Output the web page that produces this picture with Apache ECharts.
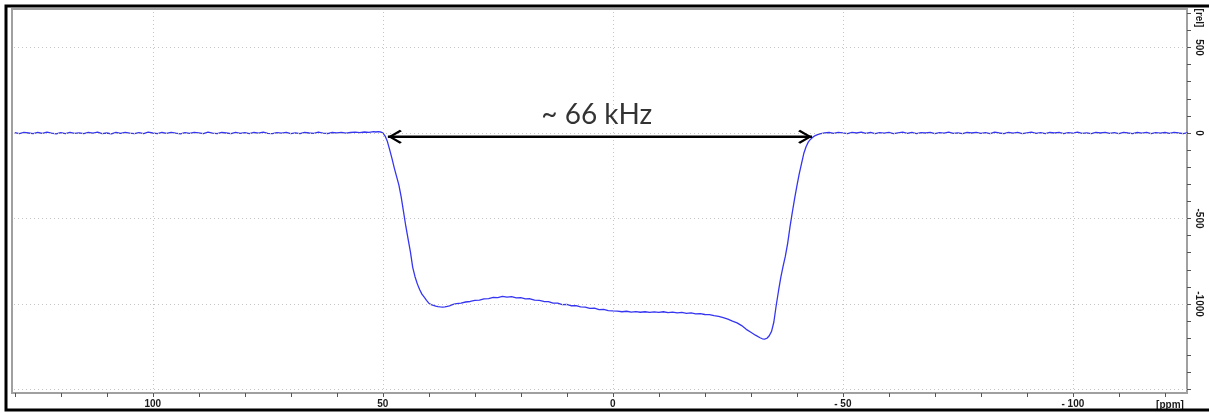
<!DOCTYPE html>
<html>
<head>
<meta charset="utf-8">
<script src="https://cdn.jsdelivr.net/npm/echarts@6/dist/echarts.min.js"></script>
<style>
  html, body { margin: 0; padding: 0; background: #fff; }
  #chart { width: 1209px; height: 413px; }
</style>
</head>
<body>
<div id="chart"></div>
<script>
// Static-powder spectrum: chemical shift [ppm] vs intensity [rel]
const baselineHigh = [
  [130,2],[129,-3],[128,4],[127,0],[126,-4],[125,3],[124,-2],[123,5],[122,-1],[121,-5],
  [120,2],[119,-3],[118,4],[117,-2],[116,1],[115,-4],[114,3],[113,-1],[112,5],[111,-3],
  [110,0],[109,-5],[108,3],[107,-2],[106,4],[105,-1],[104,-4],[103,2],[102,-3],[101,5],
  [100,0],[99,-4],[98,3],[97,-2],[96,4],[95,-1],[94,-5],[93,2],[92,-2],[91,4],
  [90,1],[89,-3],[88,5],[87,-1],[86,-4],[85,3],[84,0],[83,-3],[82,4],[81,-2],
  [80,2],[79,-4],[78,3],[77,-1],[76,5],[75,-2],[74,-4],[73,2],[72,-1],[71,4],
  [70,-3],[69,1],[68,-4],[67,3],[66,0],[65,-2],[64,5],[63,-1],[62,-3],[61,3],
  [60,1],[59,4],[58,-1],[57,3],[56,5],[55,2],[54,6],[53,4],[52,8],[51.5,6],[51,8],[50.5,6]
];
const leftEdge = [
  [50,1],[49.5,-18],[49,-50],[48.5,-99],[48,-150],[47.5,-205],[47,-255],[46.5,-305],
  [46,-375],[45.5,-460],[45,-545],[44.5,-620],[44,-695],[43.5,-785],[43,-840],[42.5,-882],
  [42,-915],[41.5,-942],[41,-960],[40.5,-978],[40,-995],[39.5,-1003],[39,-1008],[38.5,-1012],
  [38,-1015],[37.5,-1017],[37,-1018],[36.5,-1017],[36,-1014],[35.5,-1010],[35,-1005],
  [34.5,-1001],[34,-997]
];
const plateau = [
  [33,-994],[32,-988],[31,-985],[30,-979],[29,-977],[28,-970],[27,-968],[26,-961],[25,-962],
  [24,-955],[23,-960],[22,-957],[21,-964],[20,-963],[19,-970],[18,-969],[17,-977],[16,-978],
  [15,-985],[14,-986],[13,-995],[12,-994],[11,-1003],[10,-1002],[9,-1010],[8,-1009],
  [7,-1017],[6,-1018],[5,-1025],[4,-1024],[3,-1032],[2,-1031],[1,-1038],[0,-1040],
  [-1,-1041],[-2,-1045],[-3,-1042],[-4,-1047],[-5,-1044],[-6,-1048],[-7,-1045],[-8,-1049],
  [-9,-1046],[-10,-1049],[-11,-1045],[-12,-1050],[-13,-1047],[-14,-1052],[-15,-1049],
  [-16,-1054],[-17,-1052],[-18,-1057],[-19,-1056],[-20,-1061],[-21,-1062],[-22,-1068],
  [-23,-1072],[-24,-1080],[-25,-1088],[-26,-1100],[-27,-1110],[-28,-1126],[-29,-1148],
  [-30,-1165],[-31,-1182],[-32,-1197],[-32.5,-1203],[-33,-1205],[-33.5,-1200]
];
const rightEdge = [
  [-34,-1185],[-34.5,-1160],[-35,-1105],[-35.5,-1010],[-36,-925],[-36.5,-845],[-37,-780],
  [-37.5,-720],[-38,-645],[-38.5,-550],[-39,-465],[-39.5,-385],[-40,-310],[-40.5,-240],
  [-41,-180],[-41.5,-120],[-42,-80],[-42.5,-52],[-43,-36],[-43.5,-24],[-44,-15],
  [-44.5,-9],[-45,-5],[-45.5,-2],[-46,1]
];
const baselineLow = [
  [-47,3],[-48,-2],[-49,4],[-50,1],[-51,-3],[-52,4],[-53,0],[-54,5],[-55,-2],[-56,3],
  [-57,-4],[-58,2],[-59,-1],[-60,4],[-61,-3],[-62,1],[-63,5],[-64,-2],[-65,3],[-66,-4],
  [-67,2],[-68,0],[-69,4],[-70,-3],[-71,2],[-72,-1],[-73,5],[-74,-2],[-75,1],[-76,-4],
  [-77,3],[-78,0],[-79,4],[-80,-2],[-81,2],[-82,-3],[-83,5],[-84,0],[-85,-4],[-86,3],
  [-87,-1],[-88,4],[-89,-3],[-90,1],[-91,5],[-92,-2],[-93,2],[-94,-4],[-95,3],[-96,0],
  [-97,4],[-98,-3],[-99,2],[-100,-1],[-101,5],[-102,-2],[-103,1],[-104,-4],[-105,3],[-106,0],
  [-107,4],[-108,-2],[-109,2],[-110,-3],[-111,4],[-112,0],[-113,-3],[-114,3],[-115,-1],[-116,4],
  [-117,-3],[-118,2],[-119,-1],[-120,3],[-121,-2],[-122,4],[-123,0],[-124,-3],[-125,2]
];

// axis ranges and tick positions
const xRange = [-124.8, 130.6];
const yRange = [-1520, 725];
const xMinorTicks = [130,120,110,100,90,80,70,60,50,40,30,20,10,0,-10,-20,-30,-40,-50,-60,-70,-80,-90,-100,-110,-120];
const xLabels = [100, 50, 0, -50, -100];
const yMinorTicks = [-1500,-1400,-1300,-1200,-1100,-1000,-900,-800,-700,-600,-500,-400,-300,-200,-100,0,100,200,300,400,500,600,700];
const yLabels = [-1000, -500, 0, 500];
const xGrid = [100, 50, 0, -50, -100];
const yGrid = [-1500, -1000, -500, 0, 500];

// width annotation
const arrowFrom = 48.9;
const arrowTo = -43.3;
const arrowLevel = -22;
const widthText = '~ 66 kHz';
const widthTextAt = [3.5, 105];

const spectrum = baselineHigh.concat(leftEdge, plateau, rightEdge, baselineLow);

const chevronLeft = 'path://M12,0 L0,10 L12,20 L14,17.8 L4.2,10 L14,2.2 Z';
const chevronRight = 'path://M2,0 L14,10 L2,20 L0,17.8 L9.8,10 L0,2.2 Z';

const labelFont = { fontFamily: 'Liberation Sans', fontWeight: 'bold', fontSize: 10, color: '#1a1a1a' };
const gridStyle = { color: '#c4c4c4', width: 1, type: [1, 3] };

const chart = echarts.init(document.getElementById('chart'), null, { renderer: 'canvas' });
chart.setOption({
  animation: false,
  backgroundColor: '#ffffff',
  grid: { left: 12, right: 22, top: 9, bottom: 20, show: true, borderColor: '#a0a0a0', borderWidth: 2, backgroundColor: 'transparent' },
  xAxis: {
    type: 'value', inverse: true, min: xRange[0], max: xRange[1], position: 'bottom',
    axisLine: { show: true, onZero: false, lineStyle: { color: '#a0a0a0', width: 2 } },
    axisTick: { show: true, customValues: xMinorTicks, length: 4, lineStyle: { color: '#555', width: 1 } },
    axisLabel: {
      show: true, customValues: xLabels, margin: 6,
      formatter: v => (v < 0 ? '- ' + Math.abs(v) : String(v)),
      ...labelFont
    },
    splitLine: { show: false }
  },
  yAxis: {
    type: 'value', min: yRange[0], max: yRange[1], position: 'right',
    axisLine: { show: true, onZero: false, lineStyle: { color: '#a0a0a0', width: 2 } },
    axisTick: { show: true, customValues: yMinorTicks, length: 4, lineStyle: { color: '#555', width: 1 } },
    axisLabel: { show: true, customValues: yLabels, rotate: -90, margin: 7, formatter: v => String(v), ...labelFont },
    splitLine: { show: false }
  },
  series: [
    {
      name: 'grid', type: 'line', data: [], silent: true,
      markLine: {
        silent: true, symbol: ['none', 'none'], label: { show: false },
        lineStyle: gridStyle, animation: false,
        data: xGrid.map(v => ({ xAxis: v })).concat(yGrid.map(v => ({ yAxis: v })))
      }
    },
    {
      name: 'spectrum', type: 'line', data: spectrum, showSymbol: false, symbol: 'none',
      sampling: 'none', z: 3,
      lineStyle: { color: '#3535f2', width: 1.3 }
    },
    {
      name: 'width', type: 'line', z: 5, silent: true,
      data: [
        { value: [arrowFrom, arrowLevel], symbol: chevronLeft, symbolOffset: [7, 0] },
        { value: [arrowTo, arrowLevel], symbol: chevronRight, symbolOffset: [-7, 0] }
      ],
      symbolSize: [14, 14], showSymbol: true,
      itemStyle: { color: '#000' },
      lineStyle: { color: '#000', width: 2.5 }
    },
    {
      name: 'widthLabel', type: 'scatter', z: 6, silent: true,
      data: [widthTextAt], symbolSize: 0,
      label: {
        show: true, position: 'inside', formatter: widthText,
        fontFamily: 'Lato', fontSize: 28, color: '#000'
      }
    }
  ],
  graphic: [
    { type: 'rect', shape: { x: 6, y: 6, width: 1215, height: 404 }, style: { fill: 'none', stroke: '#000', lineWidth: 3 }, z: 100 },
    { type: 'text', x: 1170, y: 405, style: { text: '[ppm]', align: 'center', verticalAlign: 'middle', font: 'bold 10px "Liberation Sans"', fill: '#1a1a1a' } },
    { type: 'text', x: 1199, y: 18, rotation: -Math.PI / 2, style: { text: '[rel]', align: 'center', verticalAlign: 'middle', font: 'bold 10px "Liberation Sans"', fill: '#1a1a1a' } }
  ]
});
</script>
</body>
</html>
